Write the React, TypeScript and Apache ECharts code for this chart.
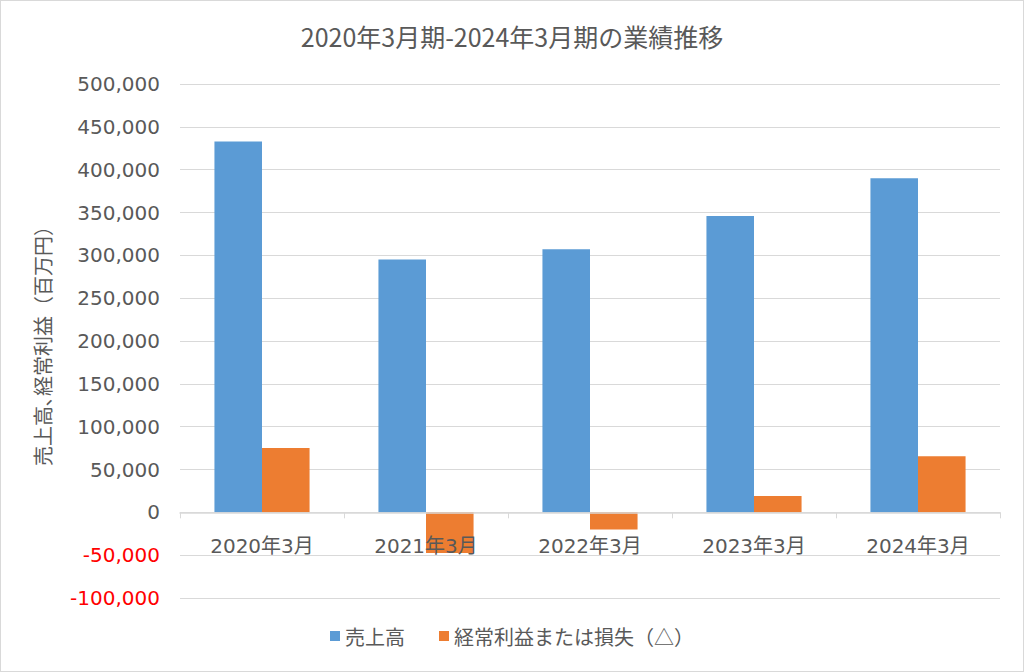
import React, { useEffect, useRef } from "react";
import * as echarts from "echarts";

const categories = ["2020年3月", "2021年3月", "2022年3月", "2023年3月", "2024年3月"];
const sales = [433000, 295000, 307000, 346000, 390000];
const ordinaryProfit = [75000, -47500, -20000, 19000, 65500];
const seriesNames = ["売上高", "経常利益または損失（△）"];
const titleText = "2020年3月期-2024年3月期の業績推移";
const yAxisName = "売上高､経常利益（百万円）";
const yMin = -100000;
const yMax = 500000;

const FONT = "'DejaVu Sans', 'Noto Sans CJK JP', sans-serif";
const CJK = "'Noto Sans CJK JP', sans-serif";

export default function App() {
  const ref = useRef<HTMLDivElement>(null);
  useEffect(() => {
    if (!ref.current) return;
    const chart = echarts.init(ref.current, undefined, { renderer: "svg" });
    const gridTop = 83;
    const gridBottom = 73;
    const gridHeight = 670 - gridTop - gridBottom;
    const zeroOffset = -(gridHeight * (0 - yMin)) / (yMax - yMin);
    chart.setOption({
      animation: false,
      backgroundColor: "#ffffff",
      title: {
        text: titleText,
        left: "center",
        top: 17,
        textStyle: { fontFamily: CJK, fontSize: 25, fontWeight: "normal", color: "#595959" },
      },
      legend: {
        bottom: 20,
        left: "center",
        itemWidth: 10,
        itemHeight: 10,
        itemGap: 34,
        icon: "rect",
        textStyle: { fontFamily: CJK, fontSize: 20, color: "#595959" },
        data: seriesNames,
      },
      grid: { left: 179, right: 23, top: gridTop, bottom: gridBottom },
      xAxis: {
        type: "category",
        data: categories,
        offset: zeroOffset,
        z: 5,
        axisLine: { onZero: false, lineStyle: { color: "#d9d9d9", width: 1.5 } },
        axisTick: { show: true, length: 6, lineStyle: { color: "#d9d9d9" } },
        axisLabel: { margin: 24, fontFamily: FONT, fontSize: 20, color: "#595959" },
      },
      yAxis: {
        type: "value",
        min: yMin,
        max: yMax,
        interval: 50000,
        name: yAxisName,
        nameLocation: "middle",
        nameRotate: 90,
        nameGap: 128,
        nameTextStyle: { fontFamily: CJK, fontSize: 20, color: "#595959" },
        axisLine: { show: false },
        axisTick: { show: false },
        splitLine: { lineStyle: { color: "#d9d9d9", width: 1 } },
        axisLabel: {
          margin: 20,
          fontFamily: FONT,
          fontSize: 20,
          color: (v: number) => (v < 0 ? "#ff0000" : "#595959"),
          formatter: (v: number) => v.toLocaleString("en-US"),
        },
      },
      series: [
        {
          name: seriesNames[0],
          type: "bar",
          data: sales,
          barGap: "0%",
          barCategoryGap: "42%",
          itemStyle: { color: "#5b9bd5" },
        },
        {
          name: seriesNames[1],
          type: "bar",
          data: ordinaryProfit,
          barGap: "0%",
          barCategoryGap: "42%",
          itemStyle: { color: "#ed7d31" },
        },
      ],
    });
    return () => chart.dispose();
  }, []);
  return (
    <div
      style={{
        position: "absolute",
        left: 0,
        top: 0,
        width: 1024,
        height: 672,
        boxSizing: "border-box",
        border: "1px solid #d9d9d9",
        background: "#fff",
      }}
    >
      <div ref={ref} style={{ width: 1022, height: 670 }} />
    </div>
  );
}
